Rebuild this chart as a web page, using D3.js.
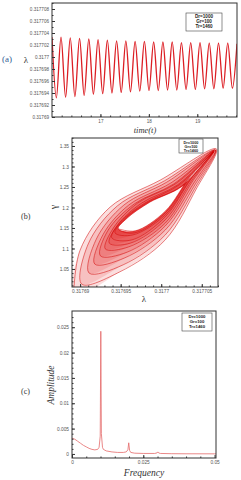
<!DOCTYPE html>
<html>
<head>
<meta charset="utf-8">
<script src="https://cdn.jsdelivr.net/npm/d3@7"></script>
<style>
body { margin: 0; background: #fff; }
svg { display: block; }
.tick text { font-family: "Liberation Sans", Arial, sans-serif; fill: #555; }
.lab { font-family: "Liberation Serif", "DejaVu Serif", serif; fill: #333; }
.leg { font-family: "Liberation Sans", Arial, sans-serif; font-weight: bold; fill: #222; }
</style>
</head>
<body>
<div id="chart"></div>
<script>
// (a) lambda against time: extrema
var timeA = [16.000, 16.090, 16.186, 16.281, 16.377, 16.473, 16.569, 16.664, 16.760, 16.855,
             16.951, 17.047, 17.143, 17.238, 17.334, 17.429, 17.525, 17.620, 17.716, 17.812,
             17.908, 18.003, 18.099, 18.194, 18.290, 18.386, 18.482, 18.577, 18.673, 18.768,
             18.864, 18.960, 19.056, 19.151, 19.247, 19.342, 19.438, 19.534, 19.629, 19.725, 19.820];
var lambdaA = [0.3177033, 0.3176932, 0.3177033, 0.3176933, 0.3177032, 0.3176934, 0.3177031, 0.3176936, 0.3177030, 0.3176938,
               0.3177029, 0.3176939, 0.3177028, 0.3176940, 0.3177027, 0.3176941, 0.3177027, 0.3176942, 0.3177026, 0.3176943,
               0.3177026, 0.3176944, 0.3177025, 0.3176944, 0.3177025, 0.3176945, 0.3177025, 0.3176945, 0.3177024, 0.3176946,
               0.3177024, 0.3176946, 0.3177024, 0.3176947, 0.3177023, 0.3176947, 0.3177023, 0.3176948, 0.3177023, 0.3176948, 0.3177022];
var aXTicks = [17, 18, 19];
var aXLabels = ["17", "18", "19"];
var aYTicks = [0.31769, 0.317692, 0.317694, 0.317696, 0.317698, 0.3177, 0.317702, 0.317704, 0.317706, 0.317708];
var aYLabels = ["0.31769", "0.317692", "0.317694", "0.317696", "0.317698", "0.3177", "0.317702", "0.317704", "0.317706", "0.317708"];

// (b) gamma against lambda: loops of the trajectory, outer to inner
// each loop: lower-left tip, up the upper side, right tip, down the lower side
var loopsB = [
  [[0.3176892,0.984],[0.3176900,1.096],[0.3176937,1.201],[0.3176999,1.267],[0.3177068,1.343],[0.3177044,1.248],[0.3177005,1.121],[0.3176949,1.043]],
  [[0.3176902,1.013],[0.3176910,1.111],[0.3176946,1.204],[0.3177004,1.265],[0.3177067,1.340],[0.3177043,1.252],[0.3177005,1.133],[0.3176953,1.060]],
  [[0.3176911,1.040],[0.3176920,1.123],[0.3176954,1.206],[0.3177007,1.262],[0.3177067,1.340],[0.3177042,1.257],[0.3177005,1.145],[0.3176955,1.077]],
  [[0.3176918,1.062],[0.3176928,1.133],[0.3176960,1.206],[0.3177012,1.260],[0.3177067,1.340],[0.3177041,1.262],[0.3177005,1.155],[0.3176958,1.091]],
  [[0.3176925,1.082],[0.3176934,1.143],[0.3176967,1.209],[0.3177015,1.257],[0.3177065,1.338],[0.3177039,1.265],[0.3177005,1.162],[0.3176960,1.104]],
  [[0.3176931,1.099],[0.3176941,1.150],[0.3176971,1.211],[0.3177017,1.257],[0.3177065,1.338],[0.3177038,1.267],[0.3177005,1.170],[0.3176962,1.113]],
  [[0.3176936,1.113],[0.3176946,1.157],[0.3176976,1.211],[0.3177020,1.255],[0.3177065,1.338],[0.3177037,1.270],[0.3177005,1.177],[0.3176964,1.121]],
  [[0.3176939,1.126],[0.3176950,1.165],[0.3176980,1.211],[0.3177022,1.255],[0.3177064,1.335],[0.3177037,1.272],[0.3177005,1.182],[0.3176965,1.133]],
  [[0.3176943,1.138],[0.3176954,1.170],[0.3176984,1.213],[0.3177025,1.252],[0.3177064,1.335],[0.3177036,1.274],[0.3177005,1.187],[0.3176967,1.138]],
  [[0.3176947,1.148],[0.3176958,1.174],[0.3176986,1.213],[0.3177026,1.252],[0.3177064,1.335],[0.3177036,1.277],[0.3177005,1.191],[0.3176968,1.143]]
];
var bXTicks = [0.31769, 0.317695, 0.3177, 0.317705];
var bXLabels = ["0.31769", "0.317695", "0.3177", "0.317705"];
var bYTicks = [1.05, 1.1, 1.15, 1.2, 1.25, 1.3, 1.35];
var bYLabels = ["1.05", "1.1", "1.15", "1.2", "1.25", "1.3", "1.35"];

// (c) amplitude spectrum
var freqC = [0, 0.001, 0.002, 0.003, 0.004, 0.005, 0.006, 0.007, 0.008, 0.009,
             0.0095, 0.0099, 0.0101, 0.0103, 0.0107, 0.011, 0.012, 0.014, 0.016, 0.018,
             0.019, 0.0196, 0.0199, 0.0202, 0.0206, 0.022, 0.025, 0.029, 0.0298, 0.0301,
             0.0304, 0.031, 0.035, 0.04, 0.05, 0.0505];
var ampC = [0.0031, 0.0029, 0.0025, 0.0021, 0.0017, 0.0014, 0.0011, 0.0009, 0.0008, 0.0009,
            0.0013, 0.0035, 0.0242, 0.0040, 0.0013, 0.0009, 0.0006, 0.0004, 0.0003, 0.0003,
            0.0004, 0.0008, 0.0022, 0.0007, 0.0003, 0.00015, 0.0001, 0.0001, 0.0002, 0.0004,
            0.0002, 0.0001, 0.00005, 0.00003, 0.00002, 0.00002];
var cXTicks = [0, 0.025, 0.05];
var cXLabels = ["0", "0.025", "0.05"];
var cYTicks = [0, 0.005, 0.01, 0.015, 0.02, 0.025];
var cYLabels = ["0", "0.005", "0.01", "0.015", "0.02", "0.025"];

var legendLines = ["Dr=1000", "Gr=100", "Tr=1460"];

var svg = d3.select("#chart").append("svg")
    .attr("width", 241)
    .attr("height", 480);

// axes with inward ticks, plus a plain frame
function drawAxes(x, y, xt, xl, yt, yl, xMinor, yMinor, labelSize) {
    var bottom = y.range()[0], left = x.range()[0];

    var gx = svg.append("g").attr("transform", `translate(0,${bottom})`);
    gx.call(d3.axisBottom(x).tickValues(xMinor).tickSizeInner(-1.5).tickSizeOuter(0).tickFormat(""));
    gx.select(".domain").remove();
    var gx2 = svg.append("g").attr("transform", `translate(0,${bottom})`);
    gx2.call(d3.axisBottom(x).tickValues(xt).tickSizeInner(-3).tickSizeOuter(0).tickPadding(2.5)
        .tickFormat((d, i) => xl[i]));
    gx2.attr("font-size", labelSize);
    gx2.select(".domain").remove();

    var gy = svg.append("g").attr("transform", `translate(${left},0)`);
    gy.call(d3.axisLeft(y).tickValues(yMinor).tickSizeInner(-1.5).tickSizeOuter(0).tickFormat(""));
    gy.select(".domain").remove();
    var gy2 = svg.append("g").attr("transform", `translate(${left},0)`);
    gy2.call(d3.axisLeft(y).tickValues(yt).tickSizeInner(-3).tickSizeOuter(0).tickPadding(3)
        .tickFormat((d, i) => yl[i]));
    gy2.attr("font-size", labelSize);
    gy2.select(".domain").remove();

    svg.selectAll(".tick line").attr("stroke", "#333");

    var r = x.range(), t = y.range();
    svg.append("rect")
        .attr("x", r[0]).attr("y", t[1])
        .attr("width", r[1] - r[0]).attr("height", t[0] - t[1])
        .attr("fill", "none").attr("stroke", "#333").attr("stroke-width", 1);
}

function clipFor(id, x, y) {
    var r = x.range(), t = y.range();
    svg.append("clipPath").attr("id", id).append("rect")
        .attr("x", r[0]).attr("y", t[1])
        .attr("width", r[1] - r[0]).attr("height", t[0] - t[1]);
    return "url(#" + id + ")";
}

function legend(x0, y0, w, h, size, step) {
    svg.append("rect").attr("x", x0).attr("y", y0).attr("width", w).attr("height", h)
        .attr("fill", "#fff").attr("stroke", "#444").attr("stroke-width", 0.6);
    legendLines.forEach(function(s, i) {
        svg.append("text").attr("class", "leg")
            .attr("x", x0 + w / 2).attr("y", y0 + step * (i + 1) + 0.3)
            .attr("text-anchor", "middle")
            .attr("font-size", size)
            .text(s);
    });
}

// Panel (a)
// ==========================================
var xA = d3.scaleLinear().domain([16, 19.82]).range([52, 237]);
var yA = d3.scaleLinear().domain([0.31769, 0.317709]).range([117, 3]);

var clipA = clipFor("clipA", xA, yA);
var lineA = d3.line()
    .x(d => xA(d[0]))
    .y(d => yA(d[1]))
    .curve(d3.curveMonotoneX);

svg.append("path")
    .datum(d3.zip(timeA, lambdaA))
    .attr("clip-path", clipA)
    .attr("d", lineA)
    .attr("fill", "none")
    .attr("stroke", "#dc1e24")
    .attr("stroke-width", 1.3);

drawAxes(xA, yA, aXTicks, aXLabels, aYTicks, aYLabels,
    d3.range(16.2, 19.81, 0.2), d3.range(0.317691, 0.317709, 0.000002), 4.6);
legend(186, 13, 36, 18, 4.6, 5);

svg.append("text").attr("class", "lab").attr("x", 2).attr("y", 62)
    .attr("font-size", 9).style("fill", "#2f5c94").text("(a)");
svg.append("text").attr("class", "lab").attr("x", 26).attr("y", 63)
    .attr("text-anchor", "middle").attr("font-size", 9).text("λ");
svg.append("text").attr("class", "lab").attr("x", 145).attr("y", 133)
    .attr("text-anchor", "middle").attr("font-size", 8.5).attr("font-style", "italic").text("time(t)");

// Panel (b)
// ==========================================
var xB = d3.scaleLinear().domain([0.317689, 0.317707]).range([72, 218]);
var yB = d3.scaleLinear().domain([1.006, 1.3695]).range([287, 138]);

var clipB = clipFor("clipB", xB, yB);
var gB = svg.append("g").attr("clip-path", clipB);

var loopLine = d3.line()
    .x(d => xB(d[0]))
    .y(d => yB(d[1]))
    .curve(d3.curveCatmullRomClosed.alpha(0.5));

// stacked light fills give the darker band near the limit cycle
gB.selectAll("path.fill")
    .data(loopsB)
    .enter()
    .append("path")
    .attr("class", "fill")
    .attr("d", loopLine)
    .attr("fill", "#e00000")
    .attr("fill-opacity", 0.13)
    .attr("stroke", "none");

gB.append("path")
    .attr("d", loopLine(loopsB[loopsB.length - 1]))
    .attr("fill", "#fff");

var spiral = [].concat.apply([], loopsB).concat([loopsB[loopsB.length - 1][0]]);
gB.append("path")
    .datum(spiral)
    .attr("d", d3.line().x(d => xB(d[0])).y(d => yB(d[1])).curve(d3.curveCatmullRom.alpha(0.5)))
    .attr("fill", "none")
    .attr("stroke", "#d00000")
    .attr("stroke-width", 0.5);

drawAxes(xB, yB, bXTicks, bXLabels, bYTicks, bYLabels,
    d3.range(0.31769, 0.317707, 0.000001), d3.range(1.01, 1.37, 0.01), 4.8);
legend(179, 139, 24, 14, 3.8, 4.3);

svg.append("text").attr("class", "lab").attr("x", 21).attr("y", 219)
    .attr("font-size", 8).text("(b)");
svg.append("text").attr("class", "lab")
    .attr("transform", "translate(57,207) rotate(-90)")
    .attr("text-anchor", "middle").attr("font-size", 10).text("γ");
svg.append("text").attr("class", "lab").attr("x", 144).attr("y", 302)
    .attr("text-anchor", "middle").attr("font-size", 9).text("λ");

// Panel (c)
// ==========================================
var xC = d3.scaleLinear().domain([0, 0.0505]).range([72, 216]);
var yC = d3.scaleLinear().domain([-0.0008, 0.0282]).range([458, 311]);

var clipC = clipFor("clipC", xC, yC);
svg.append("path")
    .datum(d3.zip(freqC, ampC))
    .attr("clip-path", clipC)
    .attr("d", d3.line().x(d => xC(d[0])).y(d => yC(d[1])))
    .attr("fill", "none")
    .attr("stroke", "#e46a6a")
    .attr("stroke-width", 0.8);

drawAxes(xC, yC, cXTicks, cXLabels, cYTicks, cYLabels,
    d3.range(0.005, 0.05, 0.005), d3.range(0.001, 0.028, 0.001), 4.8);
legend(182, 313, 30, 18, 4.3, 5);

svg.append("text").attr("class", "lab").attr("x", 21).attr("y", 394)
    .attr("font-size", 8).text("(c)");
svg.append("text").attr("class", "lab")
    .attr("transform", "translate(54,385) rotate(-90)")
    .attr("text-anchor", "middle").attr("font-size", 9.5).attr("font-style", "italic").text("Amplitude");
svg.append("text").attr("class", "lab").attr("x", 144).attr("y", 476)
    .attr("text-anchor", "middle").attr("font-size", 9.5).attr("font-style", "italic").text("Frequency");
</script>
</body>
</html>
